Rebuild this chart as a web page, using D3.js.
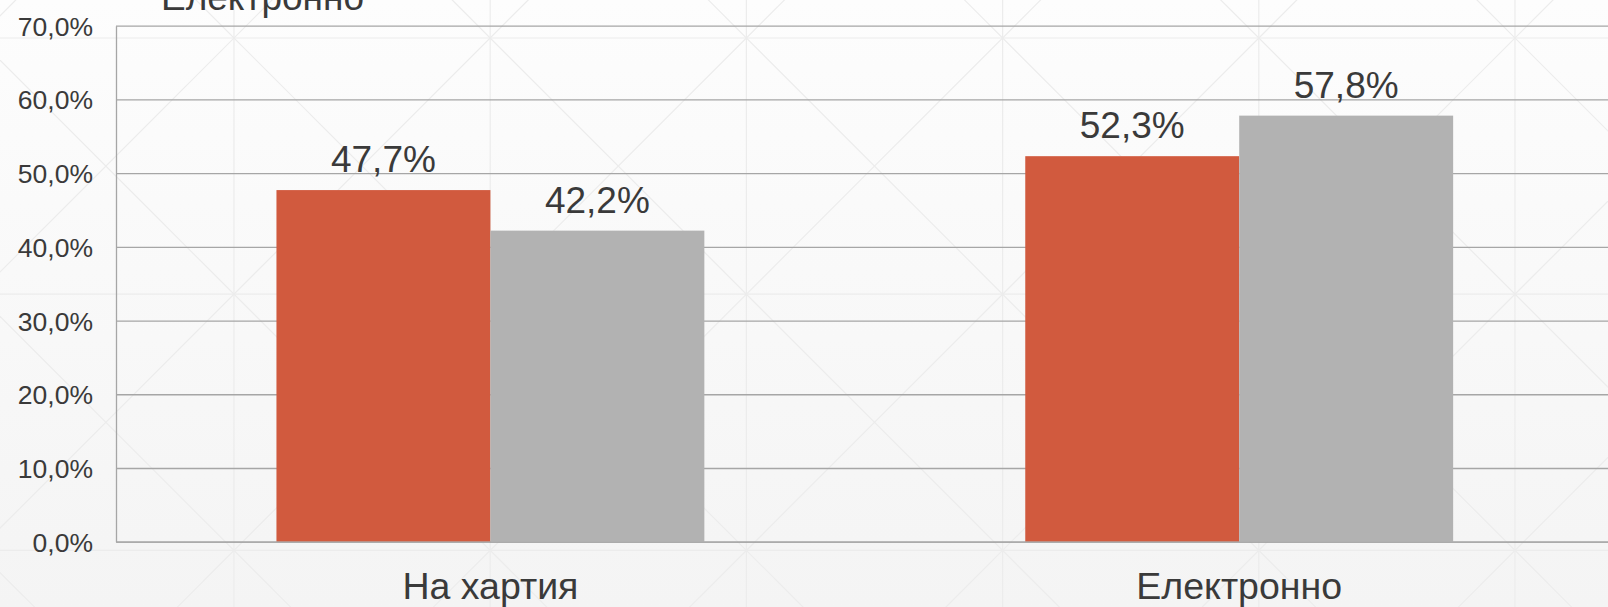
<!DOCTYPE html>
<html>
<head>
<meta charset="utf-8">
<script src="https://cdn.jsdelivr.net/npm/d3@7"></script>
<style>
  html, body { margin: 0; padding: 0; overflow: hidden; }
  body { width: 1608px; height: 607px; }
  .axis text { font-family: "Liberation Sans", Arial, sans-serif; fill: #3a3a3a; }
</style>
</head>
<body>
<script>
// data
var categorias = ["На хартия", "Електронно"];
var series = ["serie1", "serie2"];
var valores = [
  [0.477, 0.422],
  [0.523, 0.578]
];
var colores = ["#D15A3E", "#B2B2B2"];
var ticksY = [0, 0.1, 0.2, 0.3, 0.4, 0.5, 0.6, 0.7];
var textoArriba = "Електронно";

var svgW = 1608;
var svgH = 607;
var ejeIzq = 116;
var ejeDer = 1613.6;
var ejeTop = 25.7;
var ejeBase = 541.7;

var loc = d3.formatLocale({ decimal: ",", thousands: " ", grouping: [3], currency: ["", ""] });
var fmt = loc.format(".1%");

var svg = d3.select("body")
            .append("svg")
            .attr("width", svgW)
            .attr("height", svgH);

/* ---------- fondo ---------- */
var defs = svg.append("defs");
var grad = defs.append("linearGradient")
               .attr("id", "fondo")
               .attr("x1", 0).attr("y1", 0).attr("x2", 0).attr("y2", 1);
grad.append("stop").attr("offset", "0%").attr("stop-color", "#fdfdfd");
grad.append("stop").attr("offset", "100%").attr("stop-color", "#f4f4f4");

svg.append("rect")
   .attr("width", svgW)
   .attr("height", svgH)
   .attr("fill", "url(#fondo)");

var paso = 256.2;
var x0 = 234, y0 = 38;
var fondo = svg.append("g")
               .attr("stroke", "#ececec")
               .attr("stroke-width", 1.2)
               .attr("fill", "none");
for (var i = -2; i < 8; i++) {
  fondo.append("line").attr("x1", x0 + i * paso).attr("x2", x0 + i * paso).attr("y1", 0).attr("y2", svgH);
}
for (var j = -1; j < 4; j++) {
  fondo.append("line").attr("x1", 0).attr("x2", svgW).attr("y1", y0 + j * paso).attr("y2", y0 + j * paso);
}
for (var k = -6; k < 10; k++) {
  var c = x0 + k * paso;
  // pendiente +1 y -1 por cada interseccion
  fondo.append("line").attr("x1", c - 1000).attr("y1", y0 - 1000).attr("x2", c + 2000).attr("y2", y0 + 2000);
  fondo.append("line").attr("x1", c + 1000).attr("y1", y0 - 1000).attr("x2", c - 2000).attr("y2", y0 + 2000);
}

/* ---------- escalas ---------- */
var xScale = d3.scaleBand()
               .domain(categorias)
               .range([ejeIzq, ejeDer])
               .padding(0);

var xSerie = d3.scaleBand()
               .domain(series)
               .range([0, xScale.bandwidth()])
               .paddingInner(0)
               .paddingOuter(0.75);

var yScale = d3.scaleLinear()
               .domain([0, 0.7])
               .range([ejeBase, ejeTop]);

/* ---------- ejes ---------- */
var yAxis = d3.axisLeft(yScale)
              .tickValues(ticksY)
              .tickFormat(fmt)
              .tickSizeInner(-(ejeDer - ejeIzq))
              .tickSizeOuter(0)
              .tickPadding(23);

var gy = svg.append("g")
            .attr("class", "axis")
            .attr("transform", "translate(" + ejeIzq + ",0)")
            .call(yAxis);
gy.select(".domain").attr("stroke", "#a6a6a6").attr("stroke-width", 1.3);
gy.selectAll(".tick line").attr("stroke", "#a6a6a6").attr("stroke-width", 1.3);
gy.selectAll(".tick text").attr("font-size", "26.5px").attr("dy", "0.36em");

/* ---------- barras ---------- */
var grupos = svg.selectAll(".grupo")
                .data(categorias)
                .enter()
                .append("g")
                .attr("class", "grupo")
                .attr("transform", function (d) { return "translate(" + xScale(d) + ",0)"; });

grupos.selectAll("rect")
      .data(function (d, i) { return valores[i].map(function (v, s) { return { serie: series[s], v: v, s: s }; }); })
      .enter()
      .append("rect")
      .attr("x", function (d) { return xSerie(d.serie); })
      .attr("y", function (d) { return yScale(d.v); })
      .attr("width", xSerie.bandwidth())
      .attr("height", function (d) { return ejeBase - yScale(d.v); })
      .attr("fill", function (d) { return colores[d.s]; });

grupos.selectAll(".etiqueta")
      .data(function (d, i) { return valores[i].map(function (v, s) { return { serie: series[s], v: v, s: s }; }); })
      .enter()
      .append("text")
      .attr("class", "etiqueta")
      .attr("x", function (d) { return xSerie(d.serie) + xSerie.bandwidth() / 2; })
      .attr("y", function (d) { return yScale(d.v) - 18; })
      .attr("text-anchor", "middle")
      .attr("font-family", "'Liberation Sans', Arial, sans-serif")
      .attr("font-size", "37px")
      .attr("fill", "#3a3a3a")
      .text(function (d) { return fmt(d.v); });

/* ---------- eje x ---------- */
var xAxis = d3.axisBottom(xScale)
              .tickSize(0)
              .tickPadding(0);

var gx = svg.append("g")
            .attr("class", "axis")
            .attr("transform", "translate(0," + ejeBase + ")")
            .call(xAxis);
gx.select(".domain").attr("stroke", "#a6a6a6").attr("stroke-width", 1.3);
gx.selectAll(".tick text")
  .attr("font-size", "37.5px")
  .attr("y", 57.5)
  .attr("dy", 0);

/* texto cortado arriba */
svg.append("text")
   .attr("x", 262.5)
   .attr("y", 10)
   .attr("text-anchor", "middle")
   .attr("font-family", "'Liberation Sans', Arial, sans-serif")
   .attr("font-size", "37px")
   .attr("fill", "#3a3a3a")
   .text(textoArriba);
</script>
</body>
</html>
